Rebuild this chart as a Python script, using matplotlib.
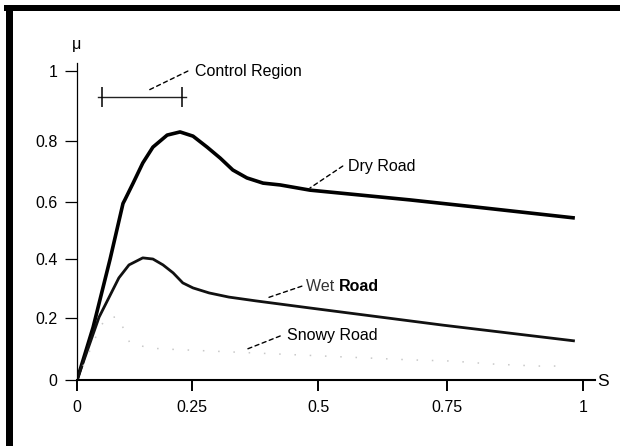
import numpy as np
import matplotlib.pyplot as plt
from matplotlib.patches import Rectangle

# friction coefficient mu vs slip S
dry_s = [0, 0.035, 0.072, 0.10, 0.104, 0.122, 0.143, 0.165, 0.196, 0.224, 0.252,
         0.280, 0.306, 0.331, 0.359, 0.391, 0.425, 0.484, 0.678, 0.805, 0.985]
dry_mu = [0, 0.17, 0.40, 0.595, 0.607, 0.662, 0.728, 0.780, 0.817, 0.826, 0.814,
          0.780, 0.744, 0.705, 0.679, 0.662, 0.656, 0.639, 0.607, 0.582, 0.544]

wet_s = [0, 0.048, 0.070, 0.091, 0.113, 0.143, 0.165, 0.187, 0.209, 0.230,
         0.252, 0.284, 0.323, 0.377, 0.484, 0.742, 0.985]
wet_mu = [0, 0.203, 0.271, 0.336, 0.380, 0.404, 0.400, 0.380, 0.353, 0.319,
          0.302, 0.285, 0.271, 0.258, 0.234, 0.177, 0.126]

snowy_s = [0, 0.05, 0.065, 0.09, 0.115, 0.159, 0.191, 0.597, 0.678, 0.761, 0.829,
           0.915, 0.952]
snowy_mu = [0, 0.17, 0.203, 0.203, 0.119, 0.103, 0.10, 0.071, 0.065, 0.061, 0.052,
            0.045, 0.045]

control_region = [0.054, 0.228]
control_mu = 0.926

x_ticks = [0, 0.25, 0.5, 0.75, 1]
x_tick_labels = ["0", "0.25", "0.5", "0.75", "1"]
y_ticks = [0, 0.2, 0.4, 0.6, 0.8, 1]
y_tick_labels = ["0", "0.2", "0.4", "0.6", "0.8", "1"]

# the hand drawn axes are not evenly spaced, so map them piecewise
x_knots = [0, 0.25, 0.5, 0.75, 1, 1.2]
x_pix = [0, 115, 241, 370, 506, 615]
y_knots = [0, 0.2, 0.4, 0.6, 0.8, 1, 1.2]
y_pix = [0, 62, 121, 178, 239, 309, 379]


def fwd_x(v):
    return np.interp(v, x_knots, x_pix)


def inv_x(v):
    return np.interp(v, x_pix, x_knots)


def fwd_y(v):
    return np.interp(v, y_knots, y_pix)


def inv_y(v):
    return np.interp(v, y_pix, y_knots)


def main():
    plt.rcParams['font.family'] = ['Liberation Sans', 'DejaVu Sans']
    W, H = 620, 446
    fig = plt.figure(figsize=(6.2, 4.46), dpi=100)
    ax = fig.add_axes([77 / W, 66 / H, 518 / W, 317 / H])
    ax.set_xscale('function', functions=(fwd_x, inv_x))
    ax.set_yscale('function', functions=(fwd_y, inv_y))

    ax.plot(dry_s, dry_mu, color='black', lw=2.6, solid_capstyle='butt',
            solid_joinstyle='round')
    ax.plot(wet_s, wet_mu, color='#111111', lw=2.0, solid_capstyle='butt',
            solid_joinstyle='round')
    ax.plot(snowy_s, snowy_mu, color='#c8c8c8', lw=1.1, linestyle=(0, (1, 9)))

    # control region bar
    ax.plot([control_region[0] - 0.008, control_region[1] + 0.009],
            [control_mu, control_mu], color='#222222', lw=1.0)
    ax.plot(control_region, [control_mu, control_mu], ls='none', marker='|',
            ms=14, mew=1.1, color='black')

    dash = dict(arrowstyle='-', linestyle=(0, (3, 2.5)), lw=1.0, color='black',
                shrinkA=0, shrinkB=0)
    fs = 11.5
    ax.annotate('', xy=(0.152, 0.943), xytext=(0.241, 1.0), arrowprops=dash,
                annotation_clip=False)
    ax.text(0.256, 1.0, 'Control Region', fontsize=fs, va='center', ha='left',
            clip_on=False)
    ax.annotate('', xy=(0.484, 0.646), xytext=(0.548, 0.718), arrowprops=dash)
    ax.text(0.558, 0.715, 'Dry Road', fontsize=fs, va='center', ha='left')
    ax.annotate('', xy=(0.399, 0.268), xytext=(0.468, 0.308), arrowprops=dash)
    wet = ax.text(0.476, 0.308, 'Wet ', fontsize=fs, va='center', ha='left',
                  color='#333333')
    ax.annotate('Road', xycoords=wet, xy=(1, 0.5), va='center', ha='left',
                fontsize=fs, fontweight='bold')
    ax.annotate('', xy=(0.355, 0.097), xytext=(0.425, 0.142), arrowprops=dash)
    ax.text(0.439, 0.142, 'Snowy Road', fontsize=fs, va='center', ha='left')

    ax.set_xlim(0, 1.022)
    ax.set_ylim(0, 1.023)
    ax.set_xticks(x_ticks)
    ax.set_xticklabels(x_tick_labels)
    ax.set_yticks(y_ticks)
    ax.set_yticklabels(y_tick_labels)
    ax.minorticks_off()
    ax.tick_params(axis='x', direction='out', length=8, width=1.4, pad=6.5,
                   labelsize=fs)
    ax.tick_params(axis='y', direction='out', length=9, width=0.9, pad=5,
                   labelsize=fs)
    ax.spines['top'].set_visible(False)
    ax.spines['right'].set_visible(False)
    ax.spines['bottom'].set_linewidth(1.5)
    ax.spines['left'].set_linewidth(0.9)

    fig.text(77 / W, (H - 45) / H, 'μ', fontsize=fs, ha='center', va='center')
    fig.text(603 / W, (H - 381) / H, 'S', fontsize=fs + 1, ha='center',
             va='center')

    # thick frame on top and left
    fig.add_artist(Rectangle((4 / W, (H - 11) / H), 1 - 4 / W, 6 / H,
                             transform=fig.transFigure, color='black', lw=0))
    fig.add_artist(Rectangle((6 / W, 0), 7 / W, (H - 5) / H,
                             transform=fig.transFigure, color='black', lw=0))

    fig.savefig('out.png', dpi=100)


if __name__ == "__main__":
    main()
